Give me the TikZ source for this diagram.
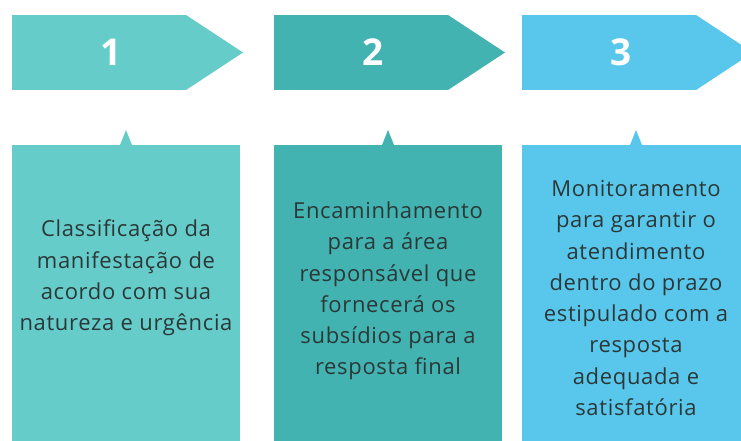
\documentclass[tikz,border=0pt]{standalone}
\usepackage{fontspec}
\setmainfont{Open Sans}
\newfontfamily\paneltextfont[LetterSpace=3]{Open Sans}
\usepackage{xcolor}
\usepackage{tikz}
\usetikzlibrary{positioning}

\definecolor{stepone}{HTML}{66CCCA}
\definecolor{steptwo}{HTML}{42B3B1}
\definecolor{stepthree}{HTML}{59C7EC}
\definecolor{darktext}{HTML}{2B3838}

\begin{document}
\begin{tikzpicture}[x=1pt, y=-1pt,
    every node/.style={inner sep=0pt, outer sep=0pt},
    arrowbody/.style={rectangle, anchor=north west, minimum width=174pt, minimum height=75pt},
    stepnum/.style={text=white, font=\fontsize{37}{37}\selectfont\bfseries},
    panel/.style={rectangle, anchor=north west, minimum width=228pt, minimum height=310pt},
    paneltext/.style={text=darktext, align=center, font=\paneltextfont\fontsize{22}{31.3}\selectfont}]
    \useasboundingbox (0,0) rectangle (741,441);
    \clip (0,0) rectangle (741,441);

    % Arrows
    \node[arrowbody, fill=stepone] (a1) at (12,15) {};
    \fill[stepone] (a1.north east) -- ([xshift=57pt]a1.east) -- (a1.south east) -- cycle;
    \node[stepnum] (n1) at ([xshift=12pt]a1.center) {1};
    \node[arrowbody, fill=steptwo] (a2) at (274,15) {};
    \fill[steptwo] (a2.north east) -- ([xshift=57pt]a2.east) -- (a2.south east) -- cycle;
    \node[stepnum] (n2) at ([xshift=12pt]a2.center) {2};
    \node[arrowbody, fill=stepthree] (a3) at (522,15) {};
    \fill[stepthree] (a3.north east) -- ([xshift=57pt]a3.east) -- (a3.south east) -- cycle;
    \node[stepnum] (n3) at ([xshift=12pt]a3.center) {3};

    % Panels
    \node[panel, fill=stepone] (p1) at (12,145) {};
    \fill[stepone] ([xshift=-6pt]p1.north) -- ([yshift=15pt]p1.north) -- ([xshift=6pt]p1.north) -- cycle;
    \node[panel, fill=steptwo] (p2) at (274,145) {};
    \fill[steptwo] ([xshift=-6pt]p2.north) -- ([yshift=15pt]p2.north) -- ([xshift=6pt]p2.north) -- cycle;
    \node[panel, fill=stepthree] (p3) at (522,145) {};
    \fill[stepthree] ([xshift=-6pt]p3.north) -- ([yshift=15pt]p3.north) -- ([xshift=6pt]p3.north) -- cycle;

    % Texts
    \node[paneltext] (t1) at (126,278) {Classificação da\\manifestação de\\acordo com sua\\natureza e urgência};
    \node[paneltext] (t2) at (388,291) {Encaminhamento\\para a área\\responsável que\\fornecerá os\\subsídios para a\\resposta final};
    \node[paneltext] (t3) at (636,298) {Monitoramento\\para garantir o\\atendimento\\dentro do prazo\\estipulado com a\\resposta\\adequada e\\satisfatória};
\end{tikzpicture}
\end{document}
